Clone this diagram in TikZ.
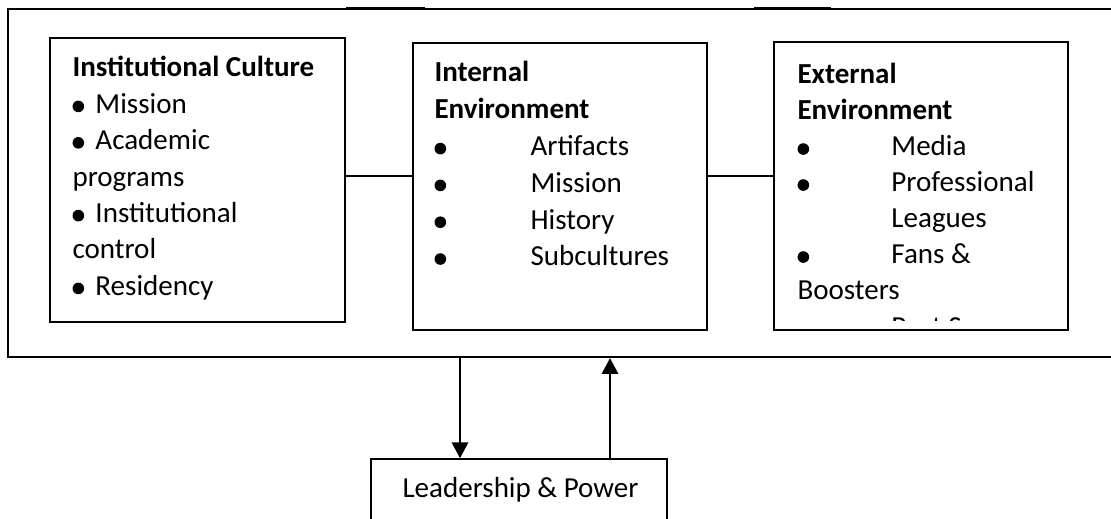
\documentclass[tikz,border=0pt]{standalone}
\usepackage{fontspec}
\setmainfont{Carlito}
\usetikzlibrary{arrows.meta,fit}
\newcommand\bul{\tikz[baseline=-0.24em]\fill (0,0) circle (2.2pt);}
\newcommand\bi[2]{\makebox[#1][l]{\bul}#2}
\begin{document}
\begin{tikzpicture}[x=0.379pt,y=-0.379pt,
  box/.style={draw, line width=0.6pt, inner sep=0pt},
  outerbox/.style={draw, line width=0.85pt, inner sep=0pt},
  txt/.style={anchor=base west, inner sep=0pt, font=\fontsize{11pt}{13pt}\selectfont},
  conn/.style={line width=0.6pt},
  arr/.style={line width=0.8pt, -{Triangle[length=6pt,width=6.2pt]}}]
\useasboundingbox (0,0) rectangle (1111,519);
% outer frame
\node[outerbox, fit={(8,9) (1125,357)}] (outer) {};
\draw[line width=1.1pt] (346,8.5) -- (425,8.5);
\draw[line width=1.1pt] (754,8.5) -- (831,8.5);
% boxes
\node[box, fit={(50,38) (345,322)}] (ic) {};
\node[box, fit={(413,43) (707,330)}] (ie) {};
\node[box, fit={(774,42) (1068,330)}] (ee) {};
\node[box, fit={(371,459) (667,560)}] (lead) {};
% left text
\foreach \t [count=\i] in {{\textbf{Institutional Culture}}, {\bi{8.7pt}{Mission}}, {\bi{8.7pt}{Academic}}, {programs}, {\bi{8.7pt}{Institutional}}, {control}, {\bi{8.7pt}{Residency}}}
  \node[txt] (ict\i) at (72,{77+36.4*(\i-1)}) {\t};
% middle text
\foreach \t [count=\i] in {{\textbf{Internal}}, {\textbf{Environment}}, {\bi{36.4pt}{Artifacts}}, {\bi{36.4pt}{Mission}}, {\bi{36.4pt}{History}}, {\bi{36.4pt}{Subcultures}}}
  \node[txt] (iet\i) at (434,{82+36.8*(\i-1)}) {\t};
% right text
\foreach \t [count=\i] in {{\textbf{External}}, {\textbf{Environment}}, {\bi{35.6pt}{Media}}, {\bi{35.6pt}{Professional}}, {\hspace{35.6pt}Leagues}, {\bi{35.6pt}{Fans \&}}, {Boosters}}
  \node[txt] (eet\i) at (797,{84+36*(\i-1)}) {\t};
\begin{scope}
  \clip (774,42) rectangle (1068,321);
  \node[txt] (eet8) at (797,337) {\bi{35.6pt}{Post Season}};
\end{scope}
% connectors
\coordinate (cy) at (0,176);
\draw[conn] (ic.east |- cy) -- (ie.west |- cy);
\draw[conn] (ie.east |- cy) -- (ee.west |- cy);
% arrows
\coordinate (ad) at (460,0);
\coordinate (au) at (610,0);
\draw[arr] (outer.south -| ad) -- (lead.north -| ad);
\draw[arr] (lead.north -| au) -- (outer.south -| au);
\node[txt] (lt) at (402,498) {Leadership \& Power};
\end{tikzpicture}
\end{document}
